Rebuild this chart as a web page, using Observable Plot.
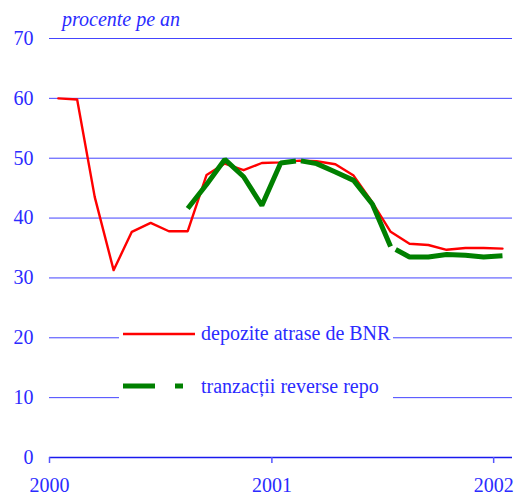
<!DOCTYPE html>
<html>
<head>
<meta charset="utf-8">
<script src="https://cdn.jsdelivr.net/npm/d3@7"></script>
<script src="https://cdn.jsdelivr.net/npm/@observablehq/plot@0.6"></script>
<style>
  body { margin: 0; background: #fff; }
  #wrap { position: relative; width: 526px; height: 497px; font-family: "Liberation Serif", "DejaVu Serif", serif; }
  #title { position: absolute; left: 62px; top: 9px; font-style: italic; font-size: 20px; line-height: 20px; color: #2b2bff; white-space: nowrap; }
  #legendbox { position: absolute; left: 119px; top: 318px; width: 274px; height: 92px; background: #fff; }
  .ltext { position: absolute; left: 201px; font-size: 20px; line-height: 20px; color: #2b2bff; white-space: nowrap; }
  #legendsvg { position: absolute; left: 0; top: 0; }
</style>
</head>
<body>
<div id="wrap">
  <div id="chart"></div>
  <div id="title">procente pe an</div>
  <div id="legendbox"></div>
  <svg id="legendsvg" width="526" height="497" style="pointer-events:none">
    <line x1="123" x2="195" y1="334" y2="334" stroke="#ff0000" stroke-width="2.5"/>
    <line x1="123" x2="155" y1="386" y2="386" stroke="#008000" stroke-width="5"/>
    <line x1="175" x2="183" y1="386" y2="386" stroke="#008000" stroke-width="5"/>
  </svg>
  <div class="ltext" style="top:323px;">depozite atrase de BNR</div>
  <div class="ltext" style="top:376px;">tranzacții reverse repo</div>
</div>
<script>
const months = ["2000-01","2000-02","2000-03","2000-04","2000-05","2000-06","2000-07","2000-08","2000-09","2000-10","2000-11","2000-12",
                "2001-01","2001-02","2001-03","2001-04","2001-05","2001-06","2001-07","2001-08","2001-09","2001-10","2001-11","2001-12","2002-01"];
const depozite = [60.0, 59.8, 43.5, 31.3, 37.7, 39.2, 37.8, 37.8, 47.2, 49.1, 48.0, 49.2,
                  49.3, 49.6, 49.5, 49.0, 47.1, 42.6, 37.7, 35.7, 35.5, 34.7, 35.0, 35.0, 34.9];
const reverseRepo = [null, null, null, null, null, null, null, 41.6, 45.6, 49.8, 46.9, 42.1,
                     49.2, 49.6, 49.1, 47.7, 46.3, 42.3, 35.2, 33.5, 33.5, 33.9, 33.8, 33.5, 33.7];
const yTicks = [0, 10, 20, 30, 40, 50, 60, 70];
const yearTicks = ["2000-01-01", "2001-01-01", "2002-01-01"];

const mid = m => new Date(m + "-15T12:00:00Z");
const dataDep = months.map((m, i) => ({date: mid(m), v: depozite[i]}));
const dataRepo = months.map((m, i) => ({date: mid(m), v: reverseRepo[i]})).filter(d => d.v != null);

const blue = "#2b2bff";
const grid = "#4444ff";

const chart = Plot.plot({
  width: 526,
  height: 497,
  marginLeft: 49,
  marginRight: 14,
  marginTop: 38,
  marginBottom: 40,
  style: {fontFamily: "Liberation Serif, serif", fontSize: "20px", color: blue, background: "transparent"},
  x: {type: "utc", domain: [new Date("2000-01-01T00:00:00Z"), new Date("2002-02-01T00:00:00Z")]},
  y: {domain: [0, 70]},
  marks: [
    Plot.ruleY(yTicks.filter(t => t > 0), {stroke: grid, strokeWidth: 1}),
    Plot.ruleY([0], {stroke: "#1a1aee", strokeWidth: 1.5}),
    Plot.axisY({ticks: yTicks, tickSize: 0, tickPadding: 16, label: null, fill: blue, fontSize: 20}),
    Plot.axisX({ticks: yearTicks.map(d => new Date(d + "T00:00:00Z")), tickFormat: d3.utcFormat("%Y"), tickSize: 6, tickPadding: 14, stroke: "#5555ff", strokeWidth: 1.5, label: null, fill: blue, fontSize: 20}),
    Plot.line(dataDep, {x: "date", y: "v", stroke: "#ff0000", strokeWidth: 2.4}),
    Plot.line(dataRepo, {x: "date", y: "v", stroke: "#008000", strokeWidth: 5, strokeDasharray: "183,5,133,6,2000", strokeLinejoin: "miter", strokeLinecap: "butt"})
  ]
});
document.getElementById("chart").appendChild(chart);
</script>
</body>
</html>
